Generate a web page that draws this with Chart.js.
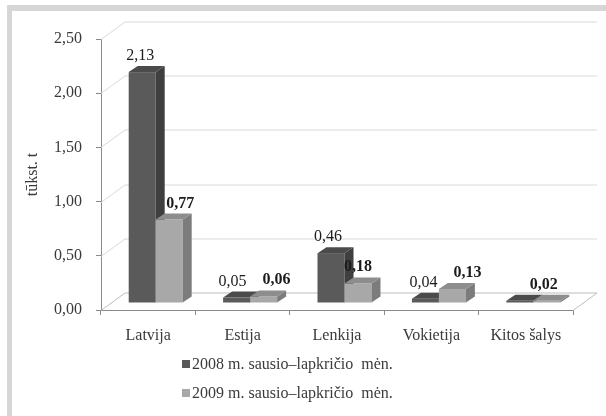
<!DOCTYPE html>
<html>
<head>
<meta charset="utf-8">
<script src="https://cdn.jsdelivr.net/npm/chart.js@4.4.1/dist/chart.umd.min.js"></script>
<style>
  body { margin: 0; background: #fff; }
  #wrap { position: relative; width: 606px; height: 416px; }
</style>
</head>
<body>
<div id="wrap"><canvas id="chart"></canvas></div>
<script>
// Data
const categories = ['Latvija', 'Estija', 'Lenkija', 'Vokietija', 'Kitos šalys'];
const series2008 = [2.13, 0.05, 0.46, 0.04, 0.02];
const series2009 = [0.77, 0.06, 0.18, 0.13, 0.02];
const seriesNames = ['2008 m. sausio–lapkričio  mėn.', '2009 m. sausio–lapkričio  mėn.'];
const yTicks = [0, 0.5, 1, 1.5, 2, 2.5];

// label nudges (x px), null = label not shown
const labelShift = [
  [-2, -4, -3, -2, null],
  [11, 13, 0, 15, -3]
];

const FONT = 'Liberation Serif, Times New Roman, serif';
const TEXT = '#3a3a3a';
const VALUE_TEXT = '#1c1c1c';

// 3D look
const WALL = { dx: 24, dy: -17.5 };   // depth of walls / floor
const SHIFT = { dx: 7.5, dy: -7 };    // bars sit in the middle of the floor
const DEPTH = { dx: 9, dy: -6 };      // depth of each bar

const faces = [
  { front: '#5a5a5a', side: '#3f3f3f', top: '#4b4b4b' },
  { front: '#a8a8a8', side: '#7c7c7c', top: '#8d8d8d' }
];

const fmt = v => v.toFixed(2).replace('.', ',');

const frame = {
  id: 'frame',
  beforeDraw(chart) {
    const ctx = chart.ctx;
    ctx.save();
    ctx.fillStyle = '#d6d6d6';
    ctx.fillRect(7, 5, chart.width - 7, 6);
    ctx.fillRect(7, 5, 5, chart.height - 5);
    ctx.restore();
  }
};

function drawBox(ctx, el, c) {
  const { x, y, width, base } = el.getProps(['x', 'y', 'width', 'base'], true);
  const l = x - width / 2, r = x + width / 2;
  ctx.fillStyle = c.front;
  ctx.fillRect(l, y, width, base - y);
  ctx.fillStyle = c.side;
  ctx.beginPath();
  ctx.moveTo(r, y);
  ctx.lineTo(r + DEPTH.dx, y + DEPTH.dy);
  ctx.lineTo(r + DEPTH.dx, base + DEPTH.dy);
  ctx.lineTo(r, base);
  ctx.closePath();
  ctx.fill();
  ctx.fillStyle = c.top;
  ctx.beginPath();
  ctx.moveTo(l, y);
  ctx.lineTo(l + DEPTH.dx, y + DEPTH.dy);
  ctx.lineTo(r + DEPTH.dx, y + DEPTH.dy);
  ctx.lineTo(r, y);
  ctx.closePath();
  ctx.fill();
}

const box3d = {
  id: 'box3d',
  beforeDatasetsDraw(chart) {
    const { ctx, chartArea: a, scales: { y } } = chart;
    ctx.save();
    ctx.lineWidth = 1;
    yTicks.forEach(v => {
      const py = Math.round(y.getPixelForValue(v)) + 0.5;
      ctx.strokeStyle = v === 0 ? '#bdbdbd' : '#d9d9d9';
      ctx.beginPath();
      ctx.moveTo(a.left, py);
      ctx.lineTo(a.left + WALL.dx, py + WALL.dy);
      ctx.lineTo(a.right + WALL.dx, py + WALL.dy);
      ctx.stroke();
    });
    // right edge of the floor
    ctx.strokeStyle = '#bdbdbd';
    ctx.beginPath();
    ctx.moveTo(a.right, a.bottom + 0.5);
    ctx.lineTo(a.right + WALL.dx, a.bottom + 0.5 + WALL.dy);
    ctx.stroke();
    ctx.restore();
  },
  afterDatasetsDraw(chart) {
    const ctx = chart.ctx;
    const metas = chart.data.datasets.map((ds, i) => chart.getDatasetMeta(i));

    // boxes, category by category so the nearer faces cover the side faces
    ctx.save();
    ctx.translate(SHIFT.dx, SHIFT.dy);
    categories.forEach((cat, j) => {
      metas.forEach((m, i) => drawBox(ctx, m.data[j], faces[i]));
    });
    ctx.restore();

    // value labels
    ctx.save();
    ctx.fillStyle = VALUE_TEXT;
    ctx.textAlign = 'center';
    ctx.textBaseline = 'alphabetic';
    chart.data.datasets.forEach((ds, i) => {
      ctx.font = (i === 1 ? 'bold ' : '') + '16px ' + FONT;
      metas[i].data.forEach((el, j) => {
        const nudge = labelShift[i][j];
        if (nudge === null) return;
        const px = el.x + SHIFT.dx + nudge;
        const py = el.y + SHIFT.dy + DEPTH.dy - 6;
        ctx.fillText(fmt(ds.data[j]), px, py);
      });
    });
    ctx.restore();

    // legend, one item per row
    ctx.save();
    ctx.font = '16px ' + FONT;
    ctx.textBaseline = 'middle';
    ctx.textAlign = 'left';
    chart.data.datasets.forEach((ds, i) => {
      const cy = 364 + i * 29;
      ctx.fillStyle = faces[i].front;
      ctx.fillRect(182, cy - 4, 8, 8);
      ctx.fillStyle = TEXT;
      ctx.fillText(ds.label, 192, cy + 1);
    });
    ctx.restore();
  }
};

new Chart(document.getElementById('chart'), {
  type: 'bar',
  data: {
    labels: categories,
    datasets: [
      // fronts are painted by the box3d plugin together with the depth faces
      { label: seriesNames[0], data: series2008, backgroundColor: 'rgba(0,0,0,0)' },
      { label: seriesNames[1], data: series2009, backgroundColor: 'rgba(0,0,0,0)' }
    ]
  },
  options: {
    responsive: true,
    maintainAspectRatio: false,
    animation: false,
    categoryPercentage: 0.572,
    barPercentage: 1,
    layout: { padding: { top: 39, right: 33, bottom: 0, left: 0 } },
    scales: {
      x: {
        grid: { drawOnChartArea: false, tickLength: 5, color: '#8a8a8a' },
        border: { color: '#8a8a8a' },
        ticks: { padding: 11, color: TEXT, font: { family: FONT, size: 16 }, maxRotation: 0 },
        afterFit: s => { s.height = 106; }
      },
      y: {
        min: 0,
        max: 2.5,
        afterBuildTicks: s => { s.ticks = yTicks.map(v => ({ value: v })); },
        grid: { drawOnChartArea: false, tickLength: 5, color: '#8a8a8a' },
        border: { color: '#8a8a8a' },
        ticks: { padding: 14, color: TEXT, font: { family: FONT, size: 16 }, callback: v => fmt(v) },
        title: { display: true, text: 'tūkst. t', color: TEXT, font: { family: FONT, size: 16 }, padding: { top: 23, bottom: 0 } },
        afterFit: s => { s.width = 101; }
      }
    },
    plugins: {
      legend: { display: false },
      tooltip: { enabled: false }
    }
  },
  plugins: [frame, box3d]
});
</script>
</body>
</html>
